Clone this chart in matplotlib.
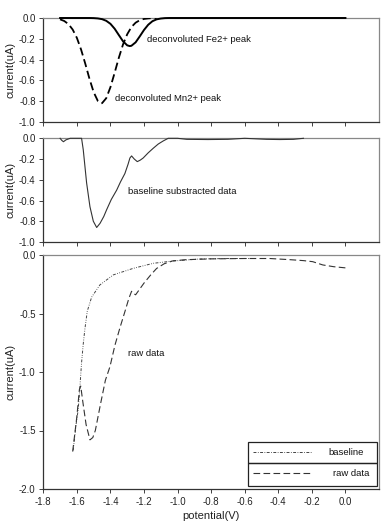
import matplotlib
matplotlib.use("Agg")
import matplotlib.pyplot as plt
from matplotlib.patches import Rectangle
from matplotlib.lines import Line2D

plt.rcParams['font.family'] = ['Liberation Sans', 'DejaVu Sans']

# ---------------- data ----------------
# top panel: deconvoluted peaks
mn_potential = [-1.700, -1.675, -1.650, -1.625, -1.600, -1.575, -1.550, -1.525, -1.500,
                -1.475, -1.455, -1.450, -1.425, -1.400, -1.375, -1.350, -1.325, -1.300,
                -1.275, -1.250, -1.225, -1.200, -1.175, -1.150, -1.125]
mn_current = [-0.013, -0.029, -0.059, -0.111, -0.191, -0.303, -0.439, -0.584, -0.713,
              -0.798, -0.820, -0.819, -0.771, -0.665, -0.527, -0.382, -0.254, -0.156,
              -0.087, -0.045, -0.021, -0.009, -0.004, -0.001, 0.000]

fe_potential = [-1.700, -1.525, -1.500, -1.475, -1.450, -1.425, -1.400, -1.375, -1.350,
                -1.325, -1.300, -1.285, -1.275, -1.250, -1.225, -1.200, -1.175, -1.150,
                -1.125, -1.100, -1.075, -1.050, 0.000]
fe_current = [0.000, 0.000, -0.001, -0.004, -0.011, -0.027, -0.056, -0.103, -0.164,
              -0.224, -0.263, -0.270, -0.267, -0.234, -0.176, -0.115, -0.065, -0.031,
              -0.013, -0.005, -0.001, 0.000, 0.000]

# middle panel: baseline subtracted data
sub_potential = [-1.700, -1.690, -1.680, -1.665, -1.640, -1.600, -1.572, -1.562, -1.552,
                 -1.542, -1.522, -1.502, -1.482, -1.462, -1.440, -1.423, -1.395, -1.363,
                 -1.340, -1.314, -1.295, -1.284, -1.274, -1.258, -1.240, -1.222, -1.205,
                 -1.175, -1.145, -1.115, -1.086, -1.056, -1.000, -0.945, -0.820, -0.700,
                 -0.600, -0.470, -0.390, -0.310, -0.250]
sub_current = [0.000, -0.020, -0.033, -0.015, 0.000, 0.000, 0.000, -0.110, -0.270,
               -0.430, -0.660, -0.800, -0.860, -0.820, -0.755, -0.690, -0.590, -0.500,
               -0.420, -0.340, -0.250, -0.190, -0.170, -0.200, -0.225, -0.210, -0.190,
               -0.140, -0.096, -0.055, -0.026, 0.000, 0.000, -0.010, -0.012, -0.010,
               0.000, -0.010, -0.012, -0.010, 0.000]

# bottom panel: raw data and baseline
raw_potential = [-1.625, -1.600, -1.585, -1.577, -1.565, -1.545, -1.522, -1.505, -1.490,
                 -1.460, -1.430, -1.403, -1.373, -1.343, -1.313, -1.290, -1.274, -1.262,
                 -1.250, -1.235, -1.200, -1.160, -1.125, -1.080, -1.028, -0.950, -0.800,
                 -0.600, -0.450, -0.330, -0.250, -0.195, -0.135, -0.070, 0.000]
raw_current = [-1.680, -1.380, -1.150, -1.120, -1.250, -1.450, -1.580, -1.560, -1.500,
               -1.280, -1.070, -0.955, -0.770, -0.620, -0.480, -0.370, -0.310, -0.330,
               -0.340, -0.310, -0.240, -0.170, -0.115, -0.075, -0.050, -0.040, -0.033,
               -0.030, -0.030, -0.040, -0.048, -0.057, -0.085, -0.100, -0.110]

base_potential = [-1.622, -1.605, -1.592, -1.582, -1.572, -1.562, -1.552, -1.538, -1.512,
                  -1.463, -1.383, -1.264, -1.145, -1.026, -0.867, -0.700, -0.530]
base_current = [-1.670, -1.450, -1.320, -1.130, -0.920, -0.760, -0.630, -0.480, -0.360,
                -0.256, -0.170, -0.114, -0.071, -0.051, -0.034, -0.030, -0.030]

x_ticks = [-1.8, -1.6, -1.4, -1.2, -1.0, -0.8, -0.6, -0.4, -0.2, 0.0]
x_ticklabels = ['-1.8', '-1.6', '-1.4', '-1.2', '-1.0', '-0.8', '-0.6', '-0.4', '-0.2', '0.0']
top_yticks = [0.0, -0.2, -0.4, -0.6, -0.8, -1.0]
bot_yticks = [0.0, -0.5, -1.0, -1.5, -2.0]

# ---------------- figure ----------------
W, H = 386, 524
fig = plt.figure(figsize=(W / 100, H / 100), dpi=100)

left_px, right_px = 43.3, 379

def axes_px(top, bottom):
    return [left_px / W, 1 - bottom / H, (right_px - left_px) / W, (bottom - top) / H]

ax1 = fig.add_axes(axes_px(18, 122))
ax2 = fig.add_axes(axes_px(138.3, 242))
ax3 = fig.add_axes(axes_px(255, 489))

TICK_FS = 6.9
LAB_FS = 8
ANN_FS = 6.8

for ax in (ax1, ax2, ax3):
    ax.set_xlim(-1.8, 0.2)
    ax.set_xticks(x_ticks)
    ax.tick_params(axis='both', direction='out', length=3, width=0.6, pad=2.5,
                   labelsize=TICK_FS, colors='#222222')
    for s in ('left', 'bottom'):
        ax.spines[s].set_color('#333333')
        ax.spines[s].set_linewidth(0.9)
    for s in ('top', 'right'):
        ax.spines[s].set_color('#888888')
        ax.spines[s].set_linewidth(0.9)
    ax.set_ylabel('current(uA)', fontsize=LAB_FS, color='#222222')
    ax.yaxis.set_label_coords(-(left_px - 16) / (right_px - left_px), 0.5)

for ax in (ax1, ax2):
    ax.set_ylim(-1.0, 0.0)
    ax.set_yticks(top_yticks)
    ax.set_yticklabels(['0.0', '-0.2', '-0.4', '-0.6', '-0.8', '-1.0'])
    ax.set_xticklabels([])

ax3.set_ylim(-2.0, 0.0)
ax3.set_yticks(bot_yticks)
ax3.set_yticklabels(['0.0', '-0.5', '-1.0', '-1.5', '-2.0'])
ax3.set_xticklabels(x_ticklabels)
fig.text(211 / W, 1 - 516 / H, 'potential(V)', fontsize=LAB_FS, ha='center', va='center',
         color='#222222')

# top panel
ax1.plot(fe_potential, fe_current, color='black', lw=1.4, clip_on=False, zorder=3)
ax1.plot(mn_potential, mn_current, color='black', lw=1.3, dashes=(4.5, 2.2), zorder=3)
ax1.text(-1.183, -0.205, 'deconvoluted Fe2+ peak', fontsize=ANN_FS, va='center', ha='left',
         color='#111111')
ax1.text(-1.373, -0.772, 'deconvoluted Mn2+ peak', fontsize=ANN_FS, va='center', ha='left',
         color='#111111')

# middle panel
ax2.plot(sub_potential, sub_current, color='#333333', lw=0.8, clip_on=False, zorder=3)
ax2.text(-1.294, -0.515, 'baseline substracted data', fontsize=ANN_FS, va='center',
         ha='left', color='#111111')

# bottom panel
ax3.plot(base_potential, base_current, color='#444444', lw=0.7,
         dashes=(3, 1.5, 0.8, 1.5, 0.8, 1.5), zorder=3)
ax3.plot(raw_potential, raw_current, color='#333333', lw=0.8, dashes=(6, 3), zorder=3)
ax3.text(-1.294, -0.84, 'raw data', fontsize=ANN_FS, va='center', ha='left',
         color='#111111')

# legend drawn as boxes in axes fraction
tr = ax3.transAxes
ax3.add_patch(Rectangle((0.610, 0.111), 0.384, 0.090, transform=tr, fill=False,
                        ec='#222222', lw=0.9, zorder=5))
ax3.add_patch(Rectangle((0.610, 0.013), 0.384, 0.098, transform=tr, fill=False,
                        ec='#222222', lw=0.9, zorder=5))
ax3.add_line(Line2D([0.624, 0.800], [0.157, 0.157], transform=tr, color='#444444', lw=0.7,
                    dashes=(3, 1.5, 0.8, 1.5)))
ax3.add_line(Line2D([0.624, 0.800], [0.067, 0.067], transform=tr, color='#333333', lw=0.8,
                    dashes=(6, 3)))
ax3.text(0.848, 0.157, 'baseline', transform=tr, fontsize=ANN_FS, va='center', ha='left',
         color='#111111')
ax3.text(0.863, 0.067, 'raw data', transform=tr, fontsize=ANN_FS, va='center', ha='left',
         color='#111111')

fig.savefig('out.png', dpi=100)
